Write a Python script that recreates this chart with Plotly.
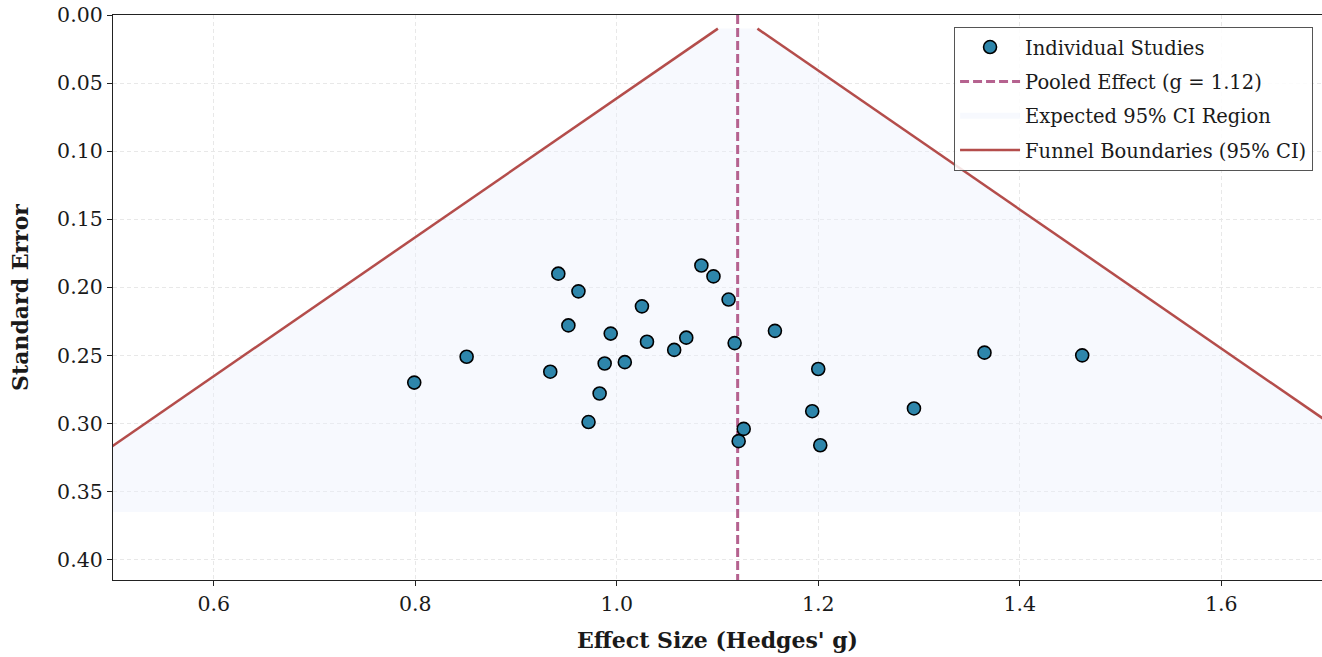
import numpy as np
import plotly.graph_objects as go

# Data
effect_size = [0.799, 0.851, 0.934, 0.942, 0.962, 0.952, 0.972, 0.983, 0.988, 0.994,
               1.008, 1.025, 1.030, 1.057, 1.069, 1.084, 1.096, 1.111, 1.117, 1.126,
               1.121, 1.157, 1.200, 1.194, 1.202, 1.295, 1.365, 1.462]
std_error = [0.270, 0.251, 0.262, 0.190, 0.203, 0.228, 0.299, 0.278, 0.256, 0.234,
             0.255, 0.214, 0.240, 0.246, 0.237, 0.184, 0.192, 0.209, 0.241, 0.304,
             0.313, 0.232, 0.260, 0.291, 0.316, 0.289, 0.248, 0.250]
pooled_effect = 1.12
se_min, se_max = 0.01, 0.365
x_range = [0.5, 1.7]
y_range = [0.415, 0.0]
x_ticks = [0.6, 0.8, 1.0, 1.2, 1.4, 1.6]
y_ticks = [0.00, 0.05, 0.10, 0.15, 0.20, 0.25, 0.30, 0.35, 0.40]

FONT = "Georgia, 'DejaVu Serif', serif"
se_grid = np.linspace(se_min, se_max, 100)
left_b = pooled_effect - 1.96 * se_grid
right_b = pooled_effect + 1.96 * se_grid

fig = go.Figure()

fig.add_trace(go.Scatter(
    x=np.concatenate([left_b, right_b[::-1]]), y=np.concatenate([se_grid, se_grid[::-1]]),
    mode="none", fill="toself", fillcolor="rgba(236,241,252,0.4)",
    name="Expected 95% CI Region", legendgroup="c", legendrank=3,
))
fig.add_trace(go.Scatter(
    x=left_b, y=se_grid, mode="lines", name="Funnel Boundaries (95% CI)",
    legendgroup="d", legendrank=4, line=dict(color="#B44D4B", width=2.5),
))
fig.add_trace(go.Scatter(
    x=right_b, y=se_grid, mode="lines", showlegend=False,
    legendgroup="d", line=dict(color="#B44D4B", width=2.5),
))
fig.add_trace(go.Scatter(
    x=[pooled_effect, pooled_effect], y=[0, y_range[0]], mode="lines",
    name=f"Pooled Effect (g = {pooled_effect:.2f})", legendgroup="b", legendrank=2,
    line=dict(color="#B5628F", width=3, dash="9px,4px"),
))
fig.add_trace(go.Scatter(
    x=effect_size, y=std_error, mode="markers", name="Individual Studies",
    legendgroup="a", legendrank=1,
    marker=dict(size=13, color="#2E86AB", line=dict(color="black", width=1.6)),
))

fig.update_layout(
    width=1322, height=657,
    margin=dict(l=113, r=0, t=15, b=77, autoexpand=False),
    paper_bgcolor="white", plot_bgcolor="white",
    font=dict(family=FONT, color="#1a1a1a"),
    showlegend=True,
    legend=dict(
        x=0.9926, y=0.979, xanchor="right", yanchor="top",
        bgcolor="rgba(255,255,255,0.85)", bordercolor="#555555", borderwidth=1,
        font=dict(family=FONT, size=19.5, color="#1a1a1a"),
        tracegroupgap=6, itemwidth=60, traceorder="grouped",
    ),
    xaxis=dict(
        range=x_range, tickvals=x_ticks, ticktext=[f"{v:.1f}" for v in x_ticks],
        showgrid=True, gridcolor="#e8e8e8", griddash="4px,3px", gridwidth=1,
        zeroline=False, showline=True, linecolor="#222", linewidth=1.3, mirror=True,
        ticks="outside", ticklen=5, tickcolor="#222", ticklabeloverflow="allow",
        tickfont=dict(family=FONT, size=20.5),
        title=dict(text="<b>Effect Size (Hedges' g)</b>", font=dict(family=FONT, size=22), standoff=17),
    ),
    yaxis=dict(
        range=y_range, tickvals=y_ticks, ticktext=[f"{v:.2f}" for v in y_ticks],
        showgrid=True, gridcolor="#e8e8e8", griddash="4px,3px", gridwidth=1,
        zeroline=False, showline=True, linecolor="#222", linewidth=1.3, mirror=False,
        ticks="outside", ticklen=5, tickcolor="#222", ticklabeloverflow="allow",
        tickfont=dict(family=FONT, size=20.5),
        title=dict(text="<b>Standard Error</b>", font=dict(family=FONT, size=22), standoff=22),
    ),
)

fig.write_html(
    "out.html",
    config={"displayModeBar": False},
    post_script="document.body.style.margin='0';document.body.style.overflow='hidden';",
)
